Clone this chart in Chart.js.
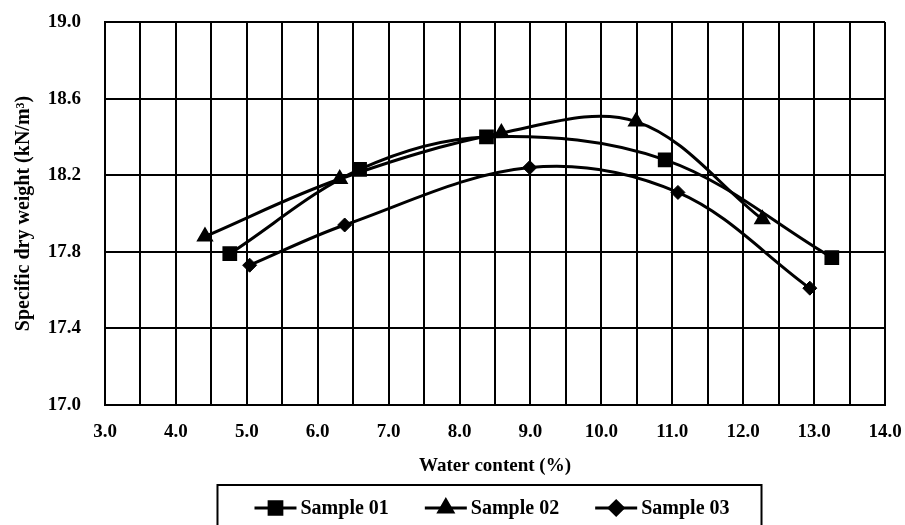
<!DOCTYPE html>
<html>
<head>
<meta charset="utf-8">
<script src="https://cdn.jsdelivr.net/npm/chart.js@4.4.1/dist/chart.umd.min.js"></script>
<style>
html, body { margin: 0; padding: 0; background: #fff; }
#wrap { width: 905px; height: 525px; }
</style>
</head>
<body>
<div id="wrap"><canvas id="compactionChart"></canvas></div>
<script>
// Compaction curves - water content (%) vs specific dry weight (kN/m3)
const seriesNames = ['Sample 01', 'Sample 02', 'Sample 03'];

const sample01Water = [4.76, 6.59, 8.38, 10.90, 13.25];
const sample01Weight = [17.79, 18.23, 18.40, 18.28, 17.77];

const sample02Water = [4.41, 6.31, 8.59, 10.49, 12.27];
const sample02Weight = [17.88, 18.18, 18.42, 18.48, 17.97];

const sample03Water = [5.04, 6.38, 8.99, 11.08, 12.94];
const sample03Weight = [17.73, 17.94, 18.24, 18.11, 17.61];

// axis ranges
const xMin = 3.0, xMax = 14.0, xStep = 0.5;
const yMin = 17.0, yMax = 19.0, yStep = 0.4;

const serifFont = "'Liberation Serif', 'Times New Roman', serif";
Chart.defaults.font.family = serifFont;
Chart.defaults.font.weight = 'bold';
Chart.defaults.color = '#000';

function toPoints(xs, ys) {
    return xs.map((x, i) => ({ x: x, y: ys[i] }));
}

function makeSeries(label, xs, ys, style, radius, border) {
    return {
        label: label,
        data: toPoints(xs, ys),
        borderColor: '#000',
        backgroundColor: '#000',
        borderWidth: 3,
        tension: 0.35,
        pointStyle: style,
        pointRadius: radius,
        pointBorderWidth: border,
        pointBackgroundColor: '#000',
        pointBorderColor: '#000',
        fill: false
    };
}

// Legend drawn in a box under the axis title, line + marker per series
const boxLegend = {
    id: 'boxLegend',
    afterDraw(chart) {
        const ctx = chart.ctx;
        const area = chart.chartArea;
        ctx.save();
        ctx.font = "bold 20px " + serifFont;
        ctx.textBaseline = 'middle';
        ctx.textAlign = 'left';
        const lineLen = 42, gap = 4, itemGap = 36;
        const items = chart.data.datasets.map(ds => ({ ds: ds, w: ctx.measureText(ds.label).width }));
        const total = items.reduce((s, it) => s + lineLen + gap + it.w, 0) + itemGap * (items.length - 1);
        let x = (area.left + area.right) / 2 - 3 - total / 2;
        const y = 508;

        ctx.lineWidth = 2;
        ctx.strokeStyle = '#000';
        ctx.strokeRect(x - 37, 485, total + 37 + 32, 60);

        items.forEach(it => {
            ctx.lineWidth = 3;
            ctx.beginPath();
            ctx.moveTo(x, y);
            ctx.lineTo(x + lineLen, y);
            ctx.stroke();
            ctx.fillStyle = '#000';
            Chart.helpers.drawPoint(ctx, {
                pointStyle: it.ds.pointStyle,
                radius: it.ds.pointRadius,
                rotation: 0,
                borderWidth: it.ds.pointBorderWidth
            }, x + lineLen / 2, y);
            ctx.fillText(it.ds.label, x + lineLen + gap, y + 1);
            x += lineLen + gap + it.w + itemGap;
        });
        ctx.restore();
    }
};

const ctx = document.getElementById('compactionChart');
new Chart(ctx, {
    type: 'line',
    data: {
        datasets: [
            makeSeries(seriesNames[0], sample01Water, sample01Weight, 'rect', 9, 2),
            makeSeries(seriesNames[1], sample02Water, sample02Weight, 'triangle', 8, 2),
            makeSeries(seriesNames[2], sample03Water, sample03Weight, 'rectRot', 7, 1)
        ]
    },
    options: {
        responsive: true,
        maintainAspectRatio: false,
        animation: false,
        layout: {
            padding: { top: 22, right: 20, bottom: 45, left: 0 }
        },
        plugins: {
            legend: { display: false },
            tooltip: { enabled: false }
        },
        scales: {
            x: {
                type: 'linear',
                min: xMin,
                max: xMax,
                afterFit(scale) {
                    scale.height = 75;
                    scale.paddingLeft = 0;
                    scale.paddingRight = 0;
                },
                grid: { color: '#000', lineWidth: 2, drawTicks: false },
                border: { display: true, color: '#000', width: 2 },
                ticks: {
                    stepSize: xStep,
                    autoSkip: false,
                    maxRotation: 0,
                    padding: 16,
                    font: { size: 19, weight: 'bold' },
                    callback(v) {
                        return Math.abs(v - Math.round(v)) < 1e-6 ? v.toFixed(1) : '';
                    }
                },
                title: {
                    display: true,
                    text: 'Water content (%)',
                    font: { size: 19, weight: 'bold' },
                    padding: { top: 0, bottom: 3 }
                }
            },
            y: {
                min: yMin,
                max: yMax,
                afterFit(scale) {
                    scale.width = 105;
                    scale.paddingTop = 0;
                    scale.paddingBottom = 0;
                },
                grid: { color: '#000', lineWidth: 2, drawTicks: false },
                border: { display: true, color: '#000', width: 2 },
                ticks: {
                    stepSize: yStep,
                    padding: 24,
                    font: { size: 19, weight: 'bold' },
                    callback(v) { return v.toFixed(1); }
                },
                title: {
                    display: true,
                    text: 'Specific dry weight (kN/m³)',
                    font: { size: 20, weight: 'bold' },
                    padding: { top: 12, bottom: 0 }
                }
            }
        }
    },
    plugins: [boxLegend]
});
</script>
</body>
</html>
